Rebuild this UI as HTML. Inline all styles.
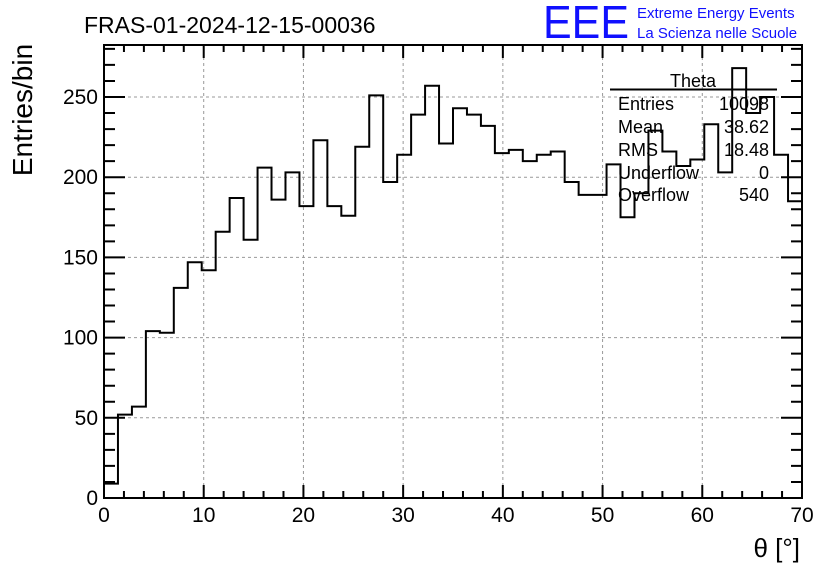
<!DOCTYPE html>
<html><head><meta charset="utf-8"><style>
body{margin:0;background:#fff;}
svg{display:block;font-family:"Liberation Sans",sans-serif;}
</style></head><body>
<svg id="c" width="836" height="572" xmlns="http://www.w3.org/2000/svg">
<rect x="0" y="0" width="836" height="572" fill="#fff"/>
<g id="grid"></g>
<g id="ticks"></g>
<path id="hist" fill="none" stroke="#000" stroke-width="2"/>
<rect x="104" y="45" width="698" height="453" fill="none" stroke="#000" stroke-width="2"/>
<g id="labels" font-size="21"></g>
<text x="84" y="33" font-size="23">FRAS-01-2024-12-15-00036</text>
<text x="543" y="38" font-size="46" fill="#1010ff" textLength="86" lengthAdjust="spacingAndGlyphs">EEE</text>
<text x="637" y="18" font-size="15" fill="#1010ff">Extreme Energy Events</text>
<text x="637" y="38" font-size="15" fill="#1010ff">La Scienza nelle Scuole</text>
<text transform="translate(32,110) rotate(-90)" text-anchor="middle" font-size="28">Entries/bin</text>
<text x="800" y="557" text-anchor="end" font-size="26">θ [°]</text>
<g font-size="18">
<line x1="610" y1="89.5" x2="777" y2="89.5" stroke="#000" stroke-width="2"/>
<text x="693" y="87" text-anchor="middle">Theta</text>
<text x="618" y="110">Entries</text><text x="769" y="110" text-anchor="end">10098</text>
<text x="618" y="133">Mean</text><text x="769" y="133" text-anchor="end">38.62</text>
<text x="618" y="156">RMS</text><text x="769" y="156" text-anchor="end">18.48</text>
<text x="618" y="179">Underflow</text><text x="769" y="179" text-anchor="end">0</text>
<text x="618" y="201">Overflow</text><text x="769" y="201" text-anchor="end">540</text>
</g>
</svg>
<script>
const binEdgesStart = 0;
const binWidth = 1.4;
const counts = [9,52,57,104,103,131,147,142,166,187,161,206,186,203,182,223,182,176,219,251,197,214,239,257,221,243,239,232,215,217,210,214,216,197,189,189,208,175,190,229,216,207,211,233,203,268,240,250,214,185];
const xTicks = [0,10,20,30,40,50,60,70];
const yTicks = [0,50,100,150,200,250];
const X0=104,X1=802,Y0=498,Y1=45;
const xs = v => X0 + (v-0)/(70-0)*(X1-X0);
const ys = v => Y0 - v*(Y0-97)/250;
const NS="http://www.w3.org/2000/svg";
function mk(tag,attrs,parent){const e=document.createElementNS(NS,tag);for(const k in attrs)e.setAttribute(k,attrs[k]);parent.appendChild(e);return e;}
const grid=document.getElementById('grid'),ticks=document.getElementById('ticks'),labels=document.getElementById('labels');
xTicks.forEach(t=>{
  const x=xs(t);
  if(t>0&&t<70){const l=mk('line',{x1:x,y1:Y1,x2:x,y2:Y0,stroke:'#999','stroke-dasharray':'3,3','stroke-width':1},grid);
  
  }
  const tx=mk('text',{x:x,y:522,'text-anchor':'middle'},labels);tx.textContent=t;
  
  
});
yTicks.forEach(t=>{
  const y=ys(t);
  if(t>0){const l=mk('line',{x1:X0,y1:y,x2:X1,y2:y,stroke:'#999','stroke-dasharray':'3,3','stroke-width':1},grid);
  
  }
  const tx=mk('text',{x:98,y:y+7,'text-anchor':'end'},labels);tx.textContent=t;
  
  
});
let d='';
for(let v=0;v<=70;v+=2){const x=xs(v),L=(v%10===0)?13:7;d+=`M${x},${Y0}v${-L}M${x},${Y1}v${L}`;}
for(let v=0;v<=280;v+=10){const y=ys(v);if(y<Y1)break;const L=(v%50===0)?21:11;d+=`M${X0},${y}h${L}M${X1},${y}h${-L}`;}
const tp=mk('path',{d:d,stroke:'#000','stroke-width':2,fill:'none'},ticks);


let h=`M${xs(binEdgesStart)},${Y0}`;
counts.forEach((c,i)=>{const a=xs(binEdgesStart+i*binWidth),b=xs(binEdgesStart+(i+1)*binWidth);h+=`L${a},${ys(c)}L${b},${ys(c)}`;});
document.getElementById('hist').setAttribute('d',h);
</script>
</body></html>
